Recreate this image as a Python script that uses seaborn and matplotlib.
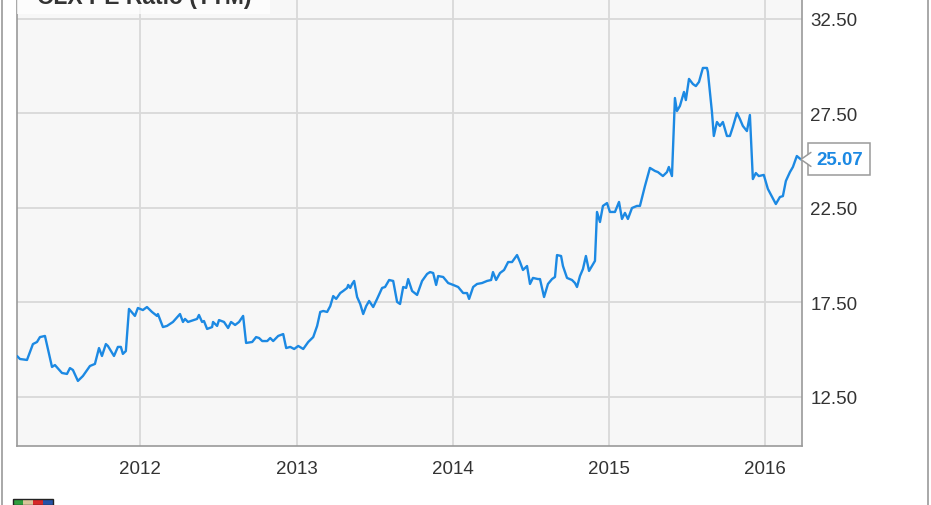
import matplotlib
matplotlib.use("Agg")
import matplotlib.pyplot as plt
import matplotlib.dates as mdates
from matplotlib.patches import Rectangle, Polygon
from matplotlib.lines import Line2D
import seaborn as sns
import pandas as pd

# ---- data (decimal year, PE ratio) ----
years = [
    2011.213, 2011.232, 2011.277, 2011.315, 2011.341, 2011.360, 2011.392, 2011.437, 2011.456, 2011.501,
    2011.533, 2011.552, 2011.571, 2011.603, 2011.635, 2011.680, 2011.712, 2011.738, 2011.757, 2011.782,
    2011.795, 2011.834, 2011.859, 2011.878, 2011.891, 2011.910, 2011.930, 2011.968, 2011.987, 2012.019,
    2012.045, 2012.077, 2012.109, 2012.115, 2012.147, 2012.173, 2012.211, 2012.256, 2012.275, 2012.288,
    2012.307, 2012.365, 2012.377, 2012.397, 2012.409, 2012.429, 2012.461, 2012.467, 2012.493, 2012.505,
    2012.537, 2012.563, 2012.582, 2012.608, 2012.633, 2012.659, 2012.678, 2012.717, 2012.742, 2012.761,
    2012.781, 2012.813, 2012.832, 2012.851, 2012.883, 2012.915, 2012.934, 2012.960, 2012.985, 2013.011,
    2013.043, 2013.075, 2013.107, 2013.132, 2013.152, 2013.171, 2013.196, 2013.216, 2013.235, 2013.254,
    2013.280, 2013.299, 2013.324, 2013.331, 2013.344, 2013.356, 2013.369, 2013.388, 2013.408, 2013.427,
    2013.446, 2013.465, 2013.491, 2013.516, 2013.548, 2013.567, 2013.593, 2013.619, 2013.644, 2013.663,
    2013.683, 2013.702, 2013.715, 2013.740, 2013.772, 2013.804, 2013.836, 2013.855, 2013.875, 2013.894,
    2013.907, 2013.939, 2013.971, 2014.003, 2014.035, 2014.067, 2014.092, 2014.105, 2014.131, 2014.156,
    2014.188, 2014.220, 2014.246, 2014.258, 2014.278, 2014.303, 2014.329, 2014.355, 2014.380, 2014.412,
    2014.431, 2014.450, 2014.476, 2014.495, 2014.514, 2014.546, 2014.559, 2014.585, 2014.610, 2014.636,
    2014.655, 2014.668, 2014.694, 2014.706, 2014.732, 2014.764, 2014.783, 2014.796, 2014.815, 2014.834,
    2014.853, 2014.873, 2014.911, 2014.924, 2014.943, 2014.962, 2014.988, 2015.007, 2015.039, 2015.065,
    2015.084, 2015.103, 2015.122, 2015.148, 2015.180, 2015.199, 2015.231, 2015.263, 2015.295, 2015.314,
    2015.346, 2015.372, 2015.384, 2015.404, 2015.423, 2015.436, 2015.455, 2015.481, 2015.493, 2015.513,
    2015.538, 2015.557, 2015.577, 2015.602, 2015.628, 2015.634, 2015.660, 2015.672, 2015.692, 2015.711,
    2015.730, 2015.756, 2015.775, 2015.794, 2015.820, 2015.839, 2015.858, 2015.884, 2015.903, 2015.922,
    2015.941, 2015.960, 2015.992, 2016.018, 2016.069, 2016.095, 2016.114, 2016.133, 2016.159, 2016.178,
    2016.203, 2016.229,
]
pe_ratio = [
    14.67, 14.51, 14.46, 15.30, 15.41, 15.67, 15.73, 14.09, 14.19, 13.77,
    13.72, 14.03, 13.93, 13.35, 13.61, 14.14, 14.25, 15.09, 14.67, 15.30,
    15.20, 14.67, 15.15, 15.15, 14.78, 14.93, 17.16, 16.79, 17.21, 17.10,
    17.26, 17.00, 16.79, 16.89, 16.20, 16.26, 16.47, 16.89, 16.47, 16.63,
    16.47, 16.63, 16.84, 16.47, 16.52, 16.10, 16.20, 16.47, 16.26, 16.57,
    16.47, 16.15, 16.47, 16.31, 16.47, 16.79, 15.36, 15.41, 15.67, 15.62,
    15.46, 15.46, 15.62, 15.46, 15.73, 15.83, 15.09, 15.15, 15.04, 15.20,
    15.04, 15.41, 15.67, 16.26, 17.00, 17.05, 17.00, 17.31, 17.84, 17.69,
    18.00, 18.11, 18.27, 18.43, 18.27, 18.48, 18.64, 17.79, 17.42, 16.89,
    17.31, 17.58, 17.26, 17.69, 18.27, 18.32, 18.69, 18.64, 17.53, 17.42,
    18.32, 18.27, 18.74, 18.11, 17.90, 18.64, 19.01, 19.11, 19.06, 18.43,
    18.90, 18.85, 18.53, 18.43, 18.32, 18.00, 18.00, 17.69, 18.32, 18.48,
    18.53, 18.64, 18.69, 19.11, 18.69, 19.06, 19.22, 19.64, 19.64, 20.01,
    19.64, 19.22, 19.43, 18.48, 18.80, 18.74, 18.74, 17.79, 18.48, 18.74,
    18.85, 20.01, 19.96, 19.43, 18.80, 18.69, 18.53, 18.32, 18.90, 19.27,
    19.96, 19.17, 19.70, 22.29, 21.76, 22.61, 22.76, 22.29, 22.29, 22.82,
    21.92, 22.24, 21.92, 22.50, 22.61, 22.61, 23.66, 24.62, 24.46, 24.40,
    24.19, 24.40, 24.67, 24.19, 28.32, 27.63, 27.90, 28.64, 28.21, 29.33,
    29.06, 28.95, 29.17, 29.91, 29.91, 29.70, 27.58, 26.31, 27.05, 26.84,
    27.05, 26.31, 26.31, 26.79, 27.53, 27.21, 26.84, 26.57, 27.42, 24.03,
    24.35, 24.19, 24.25, 23.51, 22.71, 23.08, 23.13, 23.93, 24.40, 24.67,
    25.25, 25.07,
]
y_ticks = [12.5, 17.5, 22.5, 27.5, 32.5]
year_ticks = [2012, 2013, 2014, 2015, 2016]
title = "CLX PE Ratio (TTM)"
x_range = (2011.213, 2016.236)
y_range = (9.907, 33.558)

LINE = "#1c89e3"


def to_date(y):
    yr = int(y)
    start = pd.Timestamp(yr, 1, 1)
    end = pd.Timestamp(yr + 1, 1, 1)
    return start + (end - start) * (y - yr)


df = pd.DataFrame({"date": [to_date(v) for v in years], "pe": pe_ratio})

sns.set_theme(style="white")
plt.rcParams["font.family"] = ["Liberation Sans", "DejaVu Sans"]

W, H = 931, 506
fig = plt.figure(figsize=(W / 100, H / 100), dpi=100)
fig.patch.set_facecolor("white")
ax = fig.add_axes([17 / W, 59 / H, (802 - 17) / W, (447 - 0) / H])
ax.set_facecolor("#f7f7f7")

sns.lineplot(data=df, x="date", y="pe", ax=ax, color=LINE, linewidth=1.7, zorder=3)

ax.set_xlim(to_date(x_range[0]), to_date(x_range[1]))
ax.set_ylim(*y_range)

ax.set_yticks(y_ticks)
ax.set_yticklabels([f"{t:.2f}" for t in y_ticks])
ax.set_xticks([to_date(y) for y in year_ticks])
ax.set_xticklabels([str(y) for y in year_ticks])
ax.yaxis.tick_right()
ax.tick_params(axis="y", which="both", length=0, pad=6, labelsize=13.5, labelcolor="#333333")
ax.tick_params(axis="x", which="both", length=0, pad=10, labelsize=13.5, labelcolor="#333333")
ax.set_xlabel("")
ax.set_ylabel("")
ax.grid(True, color="#d9d9d9", linewidth=1.3)
ax.set_axisbelow(True)

for side in ["left", "right", "bottom"]:
    ax.spines[side].set_visible(True)
    ax.spines[side].set_color("#9a9a9a")
    ax.spines[side].set_linewidth(1.2)
ax.spines["top"].set_visible(False)

# title box (cut off at top, as in the source image)
fig.add_artist(Rectangle((17 / W, 1 - 15 / H), (270 - 17) / W, 15 / H,
                         transform=fig.transFigure, facecolor="white", alpha=0.75,
                         edgecolor="none", zorder=2))
fig.text(37 / W, 1 - 4 / H, title, fontsize=16.5, fontweight="bold", color="#333333",
         va="baseline", ha="left", zorder=3)

# outer frame lines
fig.add_artist(Line2D([1.5 / W, 1.5 / W], [0, 1], transform=fig.transFigure, color="#9a9a9a", lw=1.2))
fig.add_artist(Line2D([927.5 / W, 927.5 / W], [0, 1], transform=fig.transFigure, color="#9a9a9a", lw=1.2))

# last value callout
last_x = df["date"].iloc[-1]
last_y = df["pe"].iloc[-1]
fig.canvas.draw()
tx, ty = ax.transData.transform((mdates.date2num(last_x), last_y))
box_left = tx + 10
ax.text(box_left + 5, ty, f"{last_y:.2f}", transform=None, fontsize=13.5, fontweight="bold",
        color=LINE, va="center", ha="left", zorder=6,
        bbox=dict(boxstyle="square,pad=0.4", facecolor="white", edgecolor="#9a9a9a", linewidth=1.1),
        clip_on=False)
tri = Polygon([[tx, ty], [box_left + 1, ty + 7], [box_left + 1, ty - 7]], closed=True,
              transform=None, facecolor="white", edgecolor="none", zorder=7)
fig.add_artist(tri)
fig.add_artist(Line2D([box_left, tx, box_left], [ty + 7, ty, ty - 7], transform=None,
                      color="#9a9a9a", lw=1.1, zorder=8))

# small logo at bottom-left (partly cut)
logo_cols = ["#2e9e3e", "#d8c49a", "#d62828", "#2553a8"]
for i, c in enumerate(logo_cols):
    fig.add_artist(Rectangle(((13 + i * 10) / W, 0), 10 / W, 6 / H, transform=fig.transFigure,
                             facecolor=c, edgecolor="none", zorder=2))
fig.add_artist(Rectangle((13 / W, 0), 40 / W, 6 / H, transform=fig.transFigure,
                         facecolor="none", edgecolor="#222222", linewidth=1.0, zorder=3))

fig.savefig("out.png", dpi=100, facecolor="white")
